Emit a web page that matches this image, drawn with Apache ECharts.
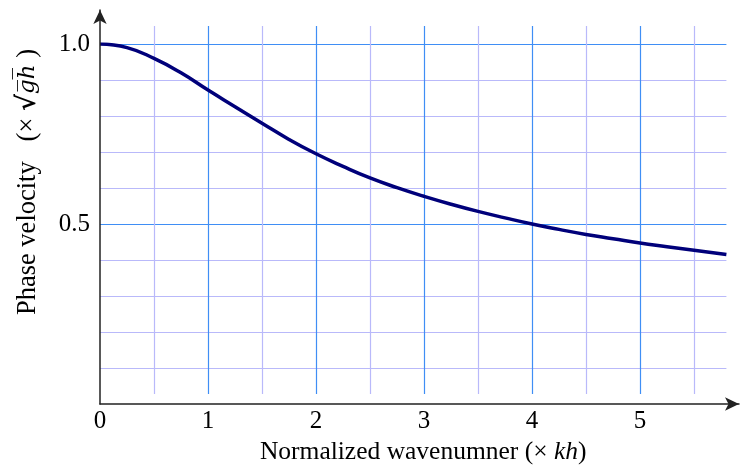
<!DOCTYPE html>
<html>
<head>
<meta charset="utf-8">
<script src="https://cdn.jsdelivr.net/npm/echarts@6/dist/echarts.min.js"></script>
<style>
  html, body { margin: 0; padding: 0; background: #fff; }
  #chart { width: 740px; height: 470px; }
</style>
</head>
<body>
<div id="chart"></div>
<script>
// curve (kh, c / sqrt(gh))
var kh = [0, 0.25, 0.5, 0.75, 1, 1.25, 1.5, 1.75, 2, 2.25, 2.5, 2.75, 3, 3.25, 3.5, 3.75, 4, 4.25, 4.5, 4.75, 5, 5.25, 5.5, 5.8];
var velocity = [1.0, 0.99, 0.96, 0.92, 0.872, 0.826, 0.78, 0.735, 0.695, 0.66, 0.628, 0.601, 0.577, 0.555, 0.535, 0.517, 0.5, 0.485, 0.471, 0.459, 0.447, 0.437, 0.427, 0.415];
var xTicks = [0, 1, 2, 3, 4, 5];
var yTicks = [0.5, 1.0];

var font = "'Liberation Serif', 'Times New Roman', serif";
var major = '#3f8ef5';
var minor = '#b9b9fa';

var points = [];
for (var i = 0; i < kh.length; i++) {
  points.push([kh[i], velocity[i]]);
}

var arrowAxis = {
  show: true, symbol: ['none', 'arrow'], symbolSize: [10, 14],
  lineStyle: { color: '#222', width: 1.5 }
};

var option = {
  animation: false,
  backgroundColor: '#fff',
  grid: [
    // vertical grid lines + x labels
    { left: 100, top: 26, width: 626.4, height: 378 },
    // horizontal grid lines + y labels + curve
    { left: 100, top: 44, width: 626.4, height: 360 },
    // axis lines with arrows
    { left: 100, top: 10, width: 639, height: 394 }
  ],
  xAxis: [
    {
      gridIndex: 0, type: 'value', min: 0, max: 5.8, interval: 1,
      name: 'Normalized wavenumner (× {i|kh})',
      nameLocation: 'middle', nameGap: 44,
      nameTextStyle: {
        fontFamily: font, fontSize: 25.5, color: '#000', padding: [0, 0, 0, 20],
        rich: { i: { fontFamily: font, fontSize: 25.5, fontStyle: 'italic', color: '#000' } }
      },
      axisLine: { show: false },
      axisTick: { show: false },
      axisLabel: {
        fontFamily: font, fontSize: 25, color: '#000', margin: 15,
        formatter: function (v) { return xTicks.indexOf(v) >= 0 ? String(v) : ''; }
      },
      splitLine: { show: true, showMinLine: false, showMaxLine: false, lineStyle: { color: major, width: 1.2 } },
      minorTick: { show: false, splitNumber: 2 },
      minorSplitLine: { show: true, lineStyle: { color: minor, width: 1.2 } }
    },
    {
      gridIndex: 1, type: 'value', min: 0, max: 5.8, show: false
    },
    {
      gridIndex: 2, type: 'value', min: 0, max: 1, z: 5,
      axisLine: arrowAxis,
      axisTick: { show: false }, axisLabel: { show: false }, splitLine: { show: false }
    }
  ],
  yAxis: [
    {
      gridIndex: 0, type: 'value', min: 0, max: 1, show: false
    },
    {
      gridIndex: 1, type: 'value', min: 0, max: 1, interval: 0.5,
      axisLine: { show: false },
      axisTick: { show: false },
      axisLabel: {
        fontFamily: font, fontSize: 25, color: '#000', margin: 10,
        formatter: function (v) { return yTicks.indexOf(v) >= 0 ? v.toFixed(1) : ''; }
      },
      splitLine: { show: true, showMinLine: false, lineStyle: { color: major, width: 1.2 } },
      minorTick: { show: false, splitNumber: 5 },
      minorSplitLine: { show: true, lineStyle: { color: minor, width: 1.2 } }
    },
    {
      gridIndex: 2, type: 'value', min: 0, max: 1, z: 5,
      name: 'Phase velocity   (× {r|√}{i|g\u0305h\u0305} )',
      nameLocation: 'middle', nameGap: 58,
      nameTextStyle: {
        fontFamily: font, fontSize: 26.5, color: '#000', padding: [0, 0, 0, 50],
        rich: {
          r: { fontFamily: "'DejaVu Serif', serif", fontSize: 26, fontWeight: 'bold', color: '#000' },
          i: { fontFamily: "'DejaVu Serif', serif", fontSize: 23, fontStyle: 'italic', color: '#000' }
        }
      },
      axisLine: arrowAxis,
      axisTick: { show: false }, axisLabel: { show: false }, splitLine: { show: false }
    }
  ],
  series: [
    {
      type: 'line',
      xAxisIndex: 1, yAxisIndex: 1,
      data: points,
      smooth: true,
      showSymbol: false,
      lineStyle: { color: '#00007a', width: 3.5 },
      z: 3
    }
  ]
};

var chart = echarts.init(document.getElementById('chart'), null, { renderer: 'canvas' });
chart.setOption(option);
</script>
</body>
</html>
